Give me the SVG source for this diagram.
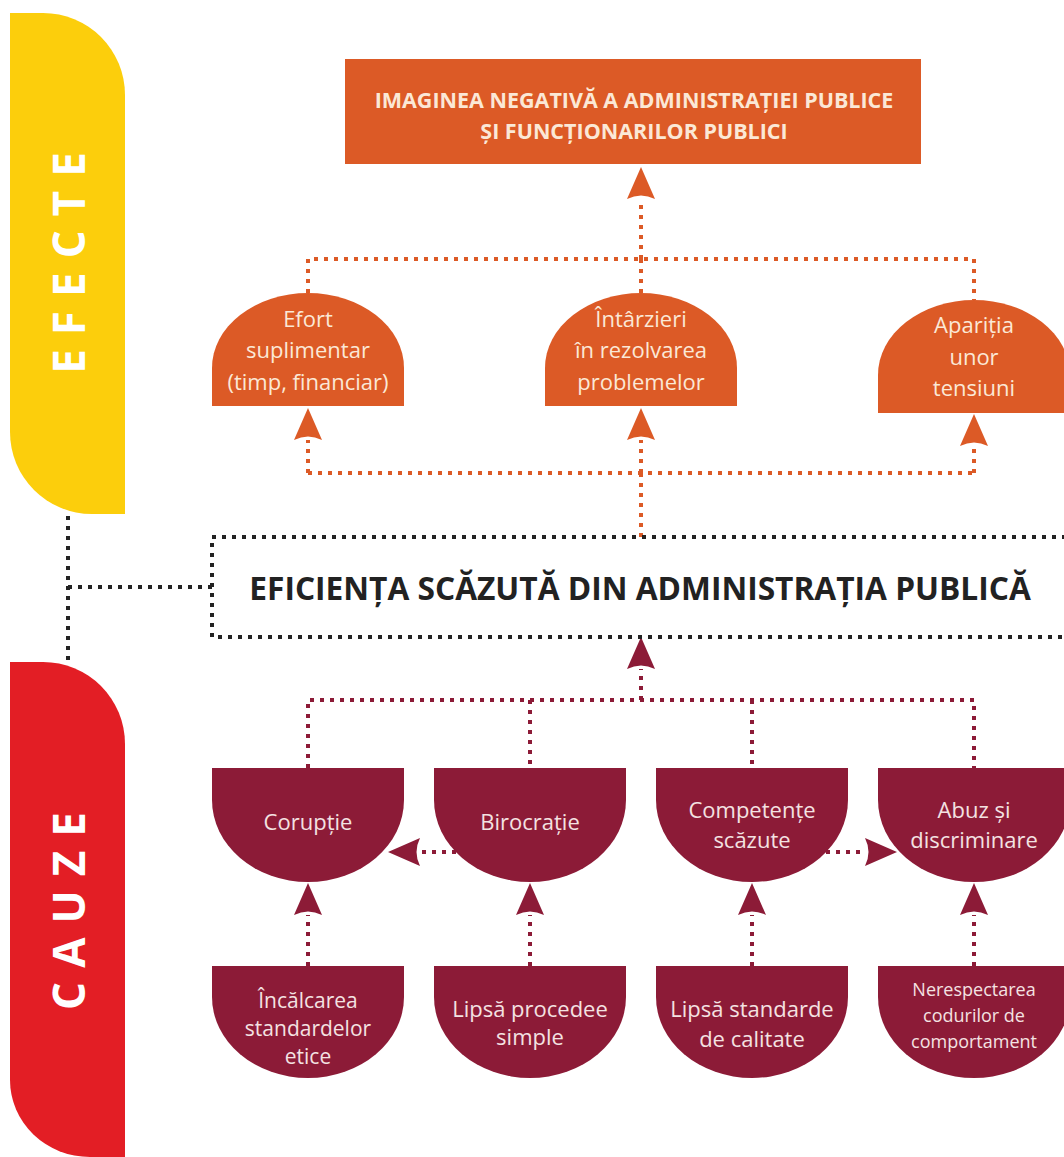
<svg xmlns="http://www.w3.org/2000/svg" width="1064" height="1157" viewBox="0 0 1064 1157">
  <style>
    .orange { fill: #dc5a26; }
    .wine { fill: #8c1b37; }
    .lbl { font-family: "Open Sans", "Noto Sans", "Liberation Sans", sans-serif; font-size: 22px; text-anchor: middle; }
    .l21 { font-size: 21px; }
    .l18 { font-size: 18px; }
    .lo { fill: #fbe8d6; }
    .lw { fill: #f4e2e2; }
    .side { font-family: "Open Sans", "Liberation Sans", sans-serif; font-weight: 700; font-size: 44px; fill: #ffffff; text-anchor: middle; letter-spacing: 14px; }
    .title { font-family: "Open Sans", "Liberation Sans", sans-serif; font-weight: 700; text-anchor: middle; }
    .dot { fill: none; stroke-width: 4; stroke-dasharray: 4 6; }
    .dO { stroke: #dc5a26; }
    .dW { stroke: #8c1b37; }
    .dK { stroke: #222222; }
  </style>
  <defs>
    <marker id="arrO" markerUnits="userSpaceOnUse" viewBox="-2 -16 36 32" markerWidth="36" markerHeight="32" refX="0" refY="0" orient="auto" overflow="visible">
      <path d="M 32 0 L 0 -14 Q 7 0 0 14 Z" fill="#dc5a26"/>
    </marker>
    <marker id="arrW" markerUnits="userSpaceOnUse" viewBox="-2 -16 36 32" markerWidth="36" markerHeight="32" refX="0" refY="0" orient="auto" overflow="visible">
      <path d="M 32 0 L 0 -14 Q 7 0 0 14 Z" fill="#8c1b37"/>
    </marker>
  </defs>

  <!-- side bands -->
  <g id="band-efecte">
    <path d="M 10 13 H 43 A 82 82 0 0 1 125 95 V 514 H 92 A 82 82 0 0 1 10 432 Z" fill="#fcce0c"/>
    <text class="side" transform="translate(85,263) rotate(-90)" x="7" y="0">EFECTE</text>
  </g>
  <g id="band-cauze">
    <path d="M 10 662 H 43 A 82 82 0 0 1 125 744 V 1157 H 90 A 80 77 0 0 1 10 1080 Z" fill="#e31e25"/>
    <text class="side" transform="translate(85,911) rotate(-90)" x="7" y="0">CAUZE</text>
  </g>

  <!-- connectors -->
  <g id="connectors">
    <!-- black -->
    <path class="dot dK" d="M 68 516 V 660"/>
    <path class="dot dK" d="M 68 587 H 212"/>
    <!-- effects -->
    <path class="dot dO" d="M 308 293 V 259 H 974 V 300"/>
    <path class="dot dO" d="M 641 293 V 259"/>
    <path class="dot dO" d="M 641 259 V 199" marker-end="url(#arrO)"/>
    <path class="dot dO" d="M 308 473 H 974"/>
    <path class="dot dO" d="M 308 473 V 440" marker-end="url(#arrO)"/>
    <path class="dot dO" d="M 641 473 V 440" marker-end="url(#arrO)"/>
    <path class="dot dO" d="M 974 473 V 446" marker-end="url(#arrO)"/>
    <path class="dot dO" d="M 641 473 V 537"/>
    <!-- causes -->
    <path class="dot dW" d="M 641 700 V 669" marker-end="url(#arrW)"/>
    <path class="dot dW" d="M 308 768 V 700 H 974 V 768"/>
    <path class="dot dW" d="M 530 700 V 768"/>
    <path class="dot dW" d="M 752 700 V 768"/>
    <path class="dot dW" d="M 456 852 H 420" marker-end="url(#arrW)"/>
    <path class="dot dW" d="M 826 852 H 865" marker-end="url(#arrW)"/>
    <path class="dot dW" d="M 308 966 V 915" marker-end="url(#arrW)"/>
    <path class="dot dW" d="M 530 966 V 915" marker-end="url(#arrW)"/>
    <path class="dot dW" d="M 752 966 V 915" marker-end="url(#arrW)"/>
    <path class="dot dW" d="M 974 966 V 915" marker-end="url(#arrW)"/>
  </g>

  <!-- top effect -->
  <g id="node-imagine">
    <rect class="orange" x="345" y="59" width="576" height="105"/>
    <text class="title" x="634" y="108" font-size="21.5" fill="#fbe8d6">IMAGINEA NEGATIVĂ A ADMINISTRAȚIEI PUBLICE</text>
    <text class="title" x="634" y="139" font-size="21.5" fill="#fbe8d6">ȘI FUNCȚIONARILOR PUBLICI</text>
  </g>

  <!-- effects -->
  <g id="node-efort">
    <path class="orange" d="M 212 406 V 368 A 96 75 0 0 1 404 368 V 406 Z"/>
    <text class="lbl lo" x="308" y="327">Efort</text>
    <text class="lbl lo" x="308" y="358">suplimentar</text>
    <text class="lbl lo" x="308" y="390">(timp, financiar)</text>
  </g>
  <g id="node-intarzieri">
    <path class="orange" d="M 545 406 V 368 A 96 75 0 0 1 737 368 V 406 Z"/>
    <text class="lbl lo" x="641" y="327">Întârzieri</text>
    <text class="lbl lo" x="641" y="358">în rezolvarea</text>
    <text class="lbl lo" x="641" y="390">problemelor</text>
  </g>
  <g id="node-tensiuni">
    <path class="orange" d="M 878 413 V 375 A 96 75 0 0 1 1070 375 V 413 Z"/>
    <text class="lbl lo" x="974" y="333">Apariția</text>
    <text class="lbl lo" x="974" y="365">unor</text>
    <text class="lbl lo" x="974" y="396">tensiuni</text>
  </g>

  <!-- central problem -->
  <g id="node-eficienta">
    <rect class="dot dK" x="212" y="537" width="900" height="100"/>
    <text class="title" x="640" y="600" font-size="31.7" fill="#222222">EFICIENȚA SCĂZUTĂ DIN ADMINISTRAȚIA PUBLICĂ</text>
  </g>

  <!-- causes -->
  <g id="node-coruptie">
    <path class="wine" d="M 212 768 H 404 V 800 A 96 82 0 0 1 212 800 Z"/>
    <text class="lbl lw" x="308" y="830">Corupție</text>
  </g>
  <g id="node-birocratie">
    <path class="wine" d="M 434 768 H 626 V 800 A 96 82 0 0 1 434 800 Z"/>
    <text class="lbl lw" x="530" y="830">Birocrație</text>
  </g>
  <g id="node-competente">
    <path class="wine" d="M 656 768 H 848 V 800 A 96 82 0 0 1 656 800 Z"/>
    <text class="lbl lw" x="752" y="818">Competențe</text>
    <text class="lbl lw" x="752" y="848">scăzute</text>
  </g>
  <g id="node-abuz">
    <path class="wine" d="M 878 768 H 1070 V 800 A 96 82 0 0 1 878 800 Z"/>
    <text class="lbl lw" x="974" y="818">Abuz și</text>
    <text class="lbl lw" x="974" y="848">discriminare</text>
  </g>

  <!-- root causes -->
  <g id="node-incalcarea">
    <path class="wine" d="M 212 966 H 404 V 997 A 96 81 0 0 1 212 997 Z"/>
    <text class="lbl l21 lw" x="308" y="1008">Încălcarea</text>
    <text class="lbl l21 lw" x="308" y="1036">standardelor</text>
    <text class="lbl l21 lw" x="308" y="1064">etice</text>
  </g>
  <g id="node-lipsa-procedee">
    <path class="wine" d="M 434 966 H 626 V 997 A 96 81 0 0 1 434 997 Z"/>
    <text class="lbl lw" x="530" y="1017">Lipsă procedee</text>
    <text class="lbl lw" x="530" y="1045">simple</text>
  </g>
  <g id="node-lipsa-standarde">
    <path class="wine" d="M 656 966 H 848 V 997 A 96 81 0 0 1 656 997 Z"/>
    <text class="lbl lw" x="752" y="1017">Lipsă standarde</text>
    <text class="lbl lw" x="752" y="1047">de calitate</text>
  </g>
  <g id="node-nerespectarea">
    <path class="wine" d="M 878 966 H 1070 V 997 A 96 81 0 0 1 878 997 Z"/>
    <text class="lbl l18 lw" x="974" y="996">Nerespectarea</text>
    <text class="lbl l18 lw" x="974" y="1022">codurilor de</text>
    <text class="lbl l18 lw" x="974" y="1048">comportament</text>
  </g>
</svg>
